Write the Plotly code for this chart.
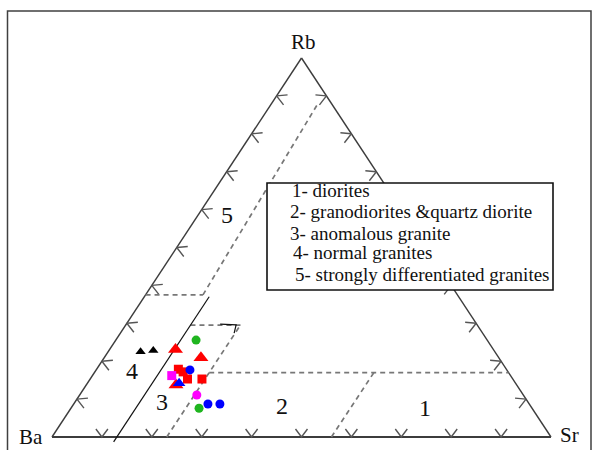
import plotly.graph_objects as go

# ---------------- sample compositions (Rb, Ba, Sr, %) ----------------
black_tri_rb = [22.5, 22.8]
black_tri_ba = [71.0, 68.3]
black_tri_sr = [6.5, 8.9]

red_tri_rb = [23.1, 20.9, 13.7]
red_tri_ba = [63.7, 59.7, 68.3]
red_tri_sr = [13.2, 19.4, 18.0]

red_sq_rb = [17.9, 17.2, 15.3, 15.3]
red_sq_ba = [65.8, 65.2, 65.2, 62.3]
red_sq_sr = [16.4, 17.7, 19.5, 22.4]

blue_circ_rb = [17.7, 8.7, 8.7]
blue_circ_ba = [63.5, 64.4, 62.0]
blue_circ_sr = [18.8, 26.9, 29.3]

green_circ_rb = [25.6, 7.6]
green_circ_ba = [58.4, 66.8]
green_circ_sr = [16.1, 25.7]

magenta_sq_rb = [16.2]
magenta_sq_ba = [67.9]
magenta_sq_sr = [15.9]

magenta_circ_rb = [11.1]
magenta_circ_ba = [65.5]
magenta_circ_sr = [23.5]

blue_tri_rb = [14.2]
blue_tri_ba = [67.5]
blue_tri_sr = [18.4]

# field names
field_labels = ["1- diorites",
                "2- granodiorites &quartz diorite",
                "3- anomalous granite",
                "4- normal granites",
                "5- strongly differentiated granites"]
field_numbers = ["1", "2", "3", "4", "5"]
field_number_rb = [7.7, 8.2, 9.2, 17.4, 58.6]
field_number_ba = [21.6, 49.8, 73.4, 75.3, 35.7]
field_number_sr = [71.3, 42.0, 17.4, 7.3, 5.8]

W, H = 598, 450
SX, SY = 499.0, 379.0          # pixels per unit along x / y
X0_PX, Y0_PX = 52.0, 437.0      # Ba corner in pixels

SERIF = "Liberation Serif, Times New Roman, serif"


def tern(rb, ba, sr):
    """Ternary (Rb, Ba, Sr) -> cartesian (x, y); Ba at origin, Sr at (1,0), Rb at (0.5,1)."""
    s = rb + ba + sr
    r, q = rb / s, sr / s
    return q + r / 2.0, r


def off(x, y, dx_px, dy_px):
    """Shift a cartesian point by a pixel offset (dy_px downward)."""
    return x + dx_px / SX, y - dy_px / SY


def tern_xy(rbs, bas, srs):
    xs, ys = [], []
    for rb, ba, sr in zip(rbs, bas, srs):
        x, y = tern(rb, ba, sr)
        xs.append(x)
        ys.append(y)
    return xs, ys


fig = go.Figure()

# ---------------- triangle sides ----------------
side_color = "#3c3c3c"
for a, b, w in [((0, 100, 0), (100, 0, 0), 1.4),
                ((100, 0, 0), (0, 0, 100), 1.4),
                ((0, 100, 0), (0, 0, 100), 2.2)]:
    xa, ya = tern(*a)
    xb, yb = tern(*b)
    fig.add_trace(go.Scatter(x=[xa, xb], y=[ya, yb], mode="lines",
                             line=dict(color=side_color, width=w),
                             hoverinfo="skip", showlegend=False))

# ---------------- chevron ticks every 10 % ----------------
tick_color = "#555555"
bx, by, lx, ly, rx, ry = [], [], [], [], [], []
for k in range(1, 10):
    # base (Ba-Sr): V opening upward
    x, y = tern(0, 100 - 10 * k, 10 * k)
    for p in [off(x, y, -6, -8), (x, y), off(x, y, 6, -8)]:
        bx.append(p[0]); by.append(p[1])
    bx.append(None); by.append(None)
    # left side (Ba-Rb)
    x, y = tern(10 * k, 100 - 10 * k, 0)
    for p in [off(x, y, 11, -1), (x, y), off(x, y, 7, 9)]:
        lx.append(p[0]); ly.append(p[1])
    lx.append(None); ly.append(None)
    # right side (Rb-Sr)
    x, y = tern(10 * k, 0, 100 - 10 * k)
    for p in [off(x, y, -11, -1), (x, y), off(x, y, -7, 9)]:
        rx.append(p[0]); ry.append(p[1])
    rx.append(None); ry.append(None)

for xs, ys in [(bx, by), (lx, ly), (rx, ry)]:
    fig.add_trace(go.Scatter(x=xs, y=ys, mode="lines",
                             line=dict(color=tick_color, width=1.4),
                             hoverinfo="skip", showlegend=False))

# ---------------- field boundaries ----------------
dashed = [
    [(37.5, 51.0, 11.5), (87.9, 2.8, 9.3)],
    [(37.5, 62.5, 0.0), (37.5, 51.0, 11.5)],
    [(29.5, 57.5, 13.0), (29.5, 47.0, 23.5)],
    [(0.0, 77.0, 23.0), (29.5, 47.5, 23.0)],
    [(17.0, 60.0, 23.0), (17.0, 0.0, 83.0)],
    [(0.0, 44.0, 56.0), (17.0, 27.0, 56.0)],
]
for seg in dashed:
    xs, ys = tern_xy(*zip(*seg))
    fig.add_trace(go.Scatter(x=xs, y=ys, mode="lines",
                             line=dict(color="#777777", width=1.7, dash="5px,4px"),
                             hoverinfo="skip", showlegend=False))

solid = [
    [(-1.3, 88.3, 13.0), (37.0, 50.0, 13.0)],
    [(29.8, 51.4, 18.8), (29.6, 48.3, 22.1), (27.4, 49.8, 22.8)],
]
for seg in solid:
    xs, ys = tern_xy(*zip(*seg))
    fig.add_trace(go.Scatter(x=xs, y=ys, mode="lines",
                             line=dict(color="#111111", width=1.2),
                             hoverinfo="skip", showlegend=False))

# ---------------- samples ----------------
groups = [
    (black_tri_rb, black_tri_ba, black_tri_sr, "triangle-up", "#000000", 9),
    (green_circ_rb, green_circ_ba, green_circ_sr, "circle", "#1fb51f", 9),
    (red_tri_rb, red_tri_ba, red_tri_sr, "triangle-up", "#ff0000", 13),
    (red_sq_rb, red_sq_ba, red_sq_sr, "square", "#ff0000", 9),
    (blue_circ_rb, blue_circ_ba, blue_circ_sr, "circle", "#0000ff", 9),
    (magenta_sq_rb, magenta_sq_ba, magenta_sq_sr, "square", "#ff00ff", 9),
    (magenta_circ_rb, magenta_circ_ba, magenta_circ_sr, "circle", "#ff00ff", 9),
    (blue_tri_rb, blue_tri_ba, blue_tri_sr, "triangle-up", "#0000ff", 11),
]
for rb, ba, sr, sym, col, size in groups:
    xs, ys = tern_xy(rb, ba, sr)
    fig.add_trace(go.Scatter(x=xs, y=ys, mode="markers",
                             marker=dict(symbol=sym, color=col, size=size,
                                         line=dict(width=0)),
                             hoverinfo="skip", showlegend=False))

# ---------------- labels ----------------
annotations = []
for name, a, dx, dy in [("Rb", (100, 0, 0), 2, 16), ("Ba", (0, 100, 0), -21, 0),
                        ("Sr", (0, 0, 100), 18, 2)]:
    x, y = tern(*a)
    annotations.append(dict(x=x, y=y, xref="x", yref="y", text=name, showarrow=False,
                            xshift=dx, yshift=dy, xanchor="center", yanchor="middle",
                            font=dict(family=SERIF, size=21, color="#111111")))

for t, rb, ba, sr in zip(field_numbers, field_number_rb, field_number_ba, field_number_sr):
    x, y = tern(rb, ba, sr)
    annotations.append(dict(x=x, y=y, xref="x", yref="y", text=t, showarrow=False,
                            xanchor="center", yanchor="middle",
                            font=dict(family=SERIF, size=24, color="#111111")))

legend_x_px = [290, 288, 288, 291, 293]
legend_y_px = [191, 212, 233, 253, 274]
for t, lx_px, ly_px in zip(field_labels, legend_x_px, legend_y_px):
    annotations.append(dict(x=lx_px / W, y=1 - ly_px / H, xref="paper", yref="paper",
                            text=t, showarrow=False, xanchor="left", yanchor="middle",
                            font=dict(family=SERIF, size=19, color="#111111")))

shapes = [
    # outer frame
    dict(type="rect", xref="paper", yref="paper",
         x0=7.5 / W, x1=591 / W, y0=-0.05, y1=1 - 11 / H,
         line=dict(color="#404040", width=1.5), fillcolor="rgba(0,0,0,0)", layer="below"),
    # legend box
    dict(type="rect", xref="paper", yref="paper",
         x0=267 / W, x1=553 / W, y0=1 - 290 / H, y1=1 - 183 / H,
         line=dict(color="#111111", width=1.6), fillcolor="white", layer="above"),
]

fig.update_layout(
    width=W, height=H, autosize=False,
    margin=dict(l=0, r=0, t=0, b=0),
    paper_bgcolor="white", plot_bgcolor="white",
    xaxis=dict(range=[-X0_PX / SX, (W - X0_PX) / SX], visible=False, fixedrange=True),
    yaxis=dict(range=[(Y0_PX - H) / SY, Y0_PX / SY], visible=False, fixedrange=True),
    annotations=annotations, shapes=shapes, showlegend=False,
)

fig.write_html("out.html")
